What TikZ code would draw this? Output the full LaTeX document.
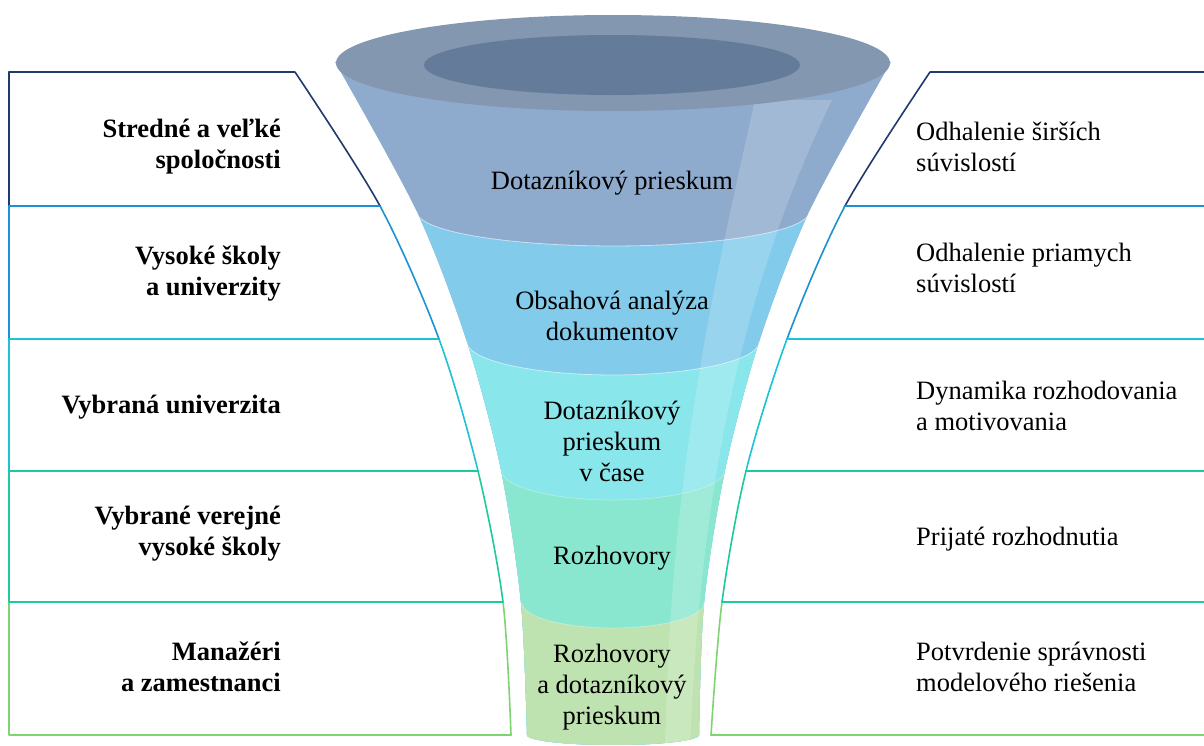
\documentclass[tikz,border=0pt]{standalone}
\usepackage{fontspec}
\setmainfont{Liberation Serif}
\usepackage{tikz}
\usetikzlibrary{positioning}
\definecolor{lineA}{HTML}{1F3B6E}
\definecolor{lineB}{HTML}{1C91D3}
\definecolor{lineC}{HTML}{1CC3D6}
\definecolor{lineD}{HTML}{1DCA9C}
\definecolor{lineE}{HTML}{80D372}
\definecolor{rimgray}{HTML}{8497B0}
\definecolor{holegray}{HTML}{647C9A}
\definecolor{segA}{HTML}{8EAACC}
\definecolor{segB}{HTML}{83CBEB}
\definecolor{segC}{HTML}{89E6EB}
\definecolor{segD}{HTML}{8AE7CF}
\definecolor{segE}{HTML}{BEE3B0}
\newcommand{\panelfont}{\fontsize{26.5}{31}\selectfont}
\tikzset{
    every picture/.style={line cap=round,line join=round},
    boxline/.style={line width=1.6pt},
    grouplabel/.style={font=\panelfont\bfseries,align=right,anchor=east,inner sep=0pt},
    methodlabel/.style={font=\panelfont,align=center,inner sep=0pt},
    resultlabel/.style={font=\panelfont,align=left,anchor=west,inner sep=0pt},
    seamline/.style={white,opacity=0.55,line width=0.8pt}
}
\begin{document}
\begin{tikzpicture}[x=1pt,y=-1pt]
  \useasboundingbox (0,0) rectangle (1204,745);
  \fill[white] (0,0) rectangle (1204,745);
  % side panels, one row at a time
  \foreach \ya/\yb/\xa/\xb/\xc/\xd/\rowcol in {72/206/295/380/930/845/lineA,
      206/339/380/439/845/787/lineB, 339/471/439/478/787/746/lineC,
      471/602/478/503/746/722/lineD, 602/735/503/511/722/711/lineE}{
    \draw[boxline,\rowcol] (\xa,\ya) -- (9,\ya) -- (9,\yb) -- (\xb,\yb);
    \draw[boxline,\rowcol] (1204,\ya) -- (\xc,\ya);
    \draw[boxline,\rowcol] (\xd,\yb) -- (1204,\yb);
    \begin{scope}
      \clip (0,\ya) rectangle (1204,\yb);
      \draw[boxline,\rowcol] plot[smooth] coordinates {(295,72) (380,206) (439,339) (478,471) (503,602) (511,735)};
      \draw[boxline,\rowcol] plot[smooth] coordinates {(930,72) (845,206) (787,339) (746,471) (722,602) (711,735)};
    \end{scope}
  }
  \draw[boxline,lineD] (9,602) -- (503,602);
  \draw[boxline,lineD] (722,602) -- (1204,602);
  % funnel body
  \begin{scope}
    \clip plot[smooth] coordinates {(335,62) (417,212) (467,342) (501,470) (521,603) (527,735)}
      -- plot[domain=180:360,samples=30] ({613+86*cos(\x)},{735-10*sin(\x)})
      -- plot[smooth] coordinates {(699,735) (704,603) (725,470) (759,342) (809,212) (891,62)} -- cycle;
    \fill[segA] (0,0) rectangle (1204,745);
    \fill[segB] (300,212) -- plot[domain=180:360,samples=40] ({613+196*cos(\x)},{212-34*sin(\x)}) -- (900,212) -- (900,760) -- (300,760) -- cycle;
    \fill[segC] (300,342) -- plot[domain=180:360,samples=40] ({613+146*cos(\x)},{342-33*sin(\x)}) -- (900,342) -- (900,760) -- (300,760) -- cycle;
    \fill[segD] (300,470) -- plot[domain=180:360,samples=40] ({613+112*cos(\x)},{470-30*sin(\x)}) -- (900,470) -- (900,760) -- (300,760) -- cycle;
    \fill[segE] (300,603) -- plot[domain=180:360,samples=40] ({613+91*cos(\x)},{603-25*sin(\x)}) -- (900,603) -- (900,760) -- (300,760) -- cycle;
    \draw[seamline] plot[domain=180:360,samples=40] ({613+196*cos(\x)},{212-34*sin(\x)});
    \draw[seamline] plot[domain=180:360,samples=40] ({613+146*cos(\x)},{342-33*sin(\x)});
    \draw[seamline,opacity=0.3] plot[domain=180:360,samples=40] ({613+112*cos(\x)},{470-30*sin(\x)});
    \draw[seamline,opacity=0.3] plot[domain=180:360,samples=40] ({613+91*cos(\x)},{603-25*sin(\x)});
    % light band
    \fill[white,opacity=0.18] (755,100) .. controls (710,300) and (670,480) .. (665,750)
      -- (690,750) .. controls (700,480) and (745,280) .. (832,100) -- cycle;
  \end{scope}
  % funnel mouth
  \fill[rimgray] (613,63) ellipse[x radius=277pt,y radius=48pt];
  \fill[holegray] (612,65) ellipse[x radius=188pt,y radius=30pt];
  % labels
  \node[methodlabel] (m1) at (612,183) {Dotazníkový prieskum};
  \node[methodlabel] (m2) at (612,316) {Obsahová analýza\\dokumentov};
  \node[methodlabel] (m3) at (612,441) {Dotazníkový\\prieskum\\v čase};
  \node[methodlabel] (m4) at (612,558) {Rozhovory};
  \node[methodlabel] (m5) at (612,687) {Rozhovory\\a dotazníkový\\prieskum};
  \node[grouplabel] (g1) at (281,147) {Stredné a veľké\\spoločnosti};
  \node[grouplabel] (g2) at (281,274) {Vysoké školy\\a univerzity};
  \node[grouplabel] (g3) at (281,407) {Vybraná univerzita};
  \node[grouplabel] (g4) at (281,534) {Vybrané verejné\\vysoké školy};
  \node[grouplabel] (g5) at (281,667) {Manažéri\\a zamestnanci};
  \node[resultlabel] (r1) at (916,147) {Odhalenie širších\\súvislostí};
  \node[resultlabel] (r2) at (916,268) {Odhalenie priamych\\súvislostí};
  \node[resultlabel] (r3) at (916,406) {Dynamika rozhodovania\\a motivovania};
  \node[resultlabel] (r4) at (916,539) {Prijaté rozhodnutia};
  \node[resultlabel] (r5) at (916,667) {Potvrdenie správnosti\\modelového riešenia};
\end{tikzpicture}
\end{document}
